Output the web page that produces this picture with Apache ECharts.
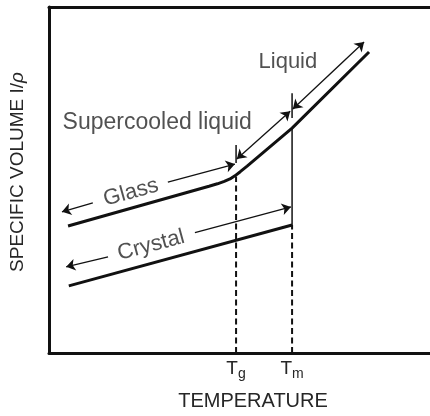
<!DOCTYPE html>
<html lang="en">
<head>
    <meta charset="UTF-8">
    <title>Specific volume vs temperature</title>
    <script src="https://cdn.jsdelivr.net/npm/echarts@6/dist/echarts.min.js"></script>
    <style>
        html, body { margin: 0; padding: 0; background: #fff; }
        #main { width: 430px; height: 416px; }
    </style>
</head>
<body>
    <div id="main"></div>
    <script>
        // characteristic temperatures (arbitrary units, axis 0-100)
        var TG = 49.1, TM = 63.8;
        var tempTicks = [TG, TM];
        var tickNames = ['g', 'm'];

        // glass -> supercooled liquid -> liquid curve
        var glassLiquid = [[5.0, 36.7], [42.0, 48.2], [44.2, 48.9], [46.0, 49.6], [47.5, 50.3],
            [48.8, 51.2], [50.2, 52.4], [52.0, 54.0], [63.8, 65.0], [84.0, 87.0]];
        // crystal branch
        var crystal = [[5.2, 19.4], [TM, 37.0]];
        // melting jump
        var meltJump = [[TM, 37.0], [TM, 65.0]];
        // dashed drop lines
        var tgDrop = [[TG, 0], [TG, 51.0]];
        var tmDrop = [[TM, 0], [TM, 37.0]];
        // short markers on arrows
        var tgMark = [[TG, 54.9], [TG, 60.1]];
        var tmMark = [[TM, 67.9], [TM, 75.1]];

        // arrows: [from, to], head at 'to'
        var singleArrows = [
            [[11.5, 43.4], [3.4, 40.8]],
            [[31.2, 49.4], [48.8, 54.6]],
            [[15.5, 27.8], [4.5, 24.9]],
            [[38.3, 34.8], [63.5, 42.2]]
        ];
        var doubleArrows = [
            [[49.3, 56.1], [63.3, 69.9]],
            [[64.0, 70.5], [82.7, 89.9]]
        ];

        // text labels: [x, y, text, rotate, size]
        var labels = [
            [21.5, 46.4, 'Glass', 15.5, 22],
            [26.8, 31.1, 'Crystal', 15, 22],
            [28.4, 66.5, 'Supercooled liquid', 0, 23],
            [62.7, 84.1, 'Liquid', 0, 22]
        ];

        var FONT = 'Liberation Sans, Arial, sans-serif';
        var INK = '#111';
        var TXT = '#262626';

        function lineSeries(data, width, type) {
            return {
                type: 'line',
                data: data,
                symbol: 'none',
                silent: true,
                lineStyle: { color: INK, width: width, type: type || 'solid' }
            };
        }

        var myChart = echarts.init(document.getElementById('main'));
        var option = {
            animation: false,
            grid: { left: 49, right: 0, top: 7, bottom: 63 },
            xAxis: [{
                type: 'value',
                min: 0,
                max: 100,
                name: 'TEMPERATURE',
                nameLocation: 'middle',
                nameGap: 38,
                nameTextStyle: { fontFamily: FONT, fontSize: 20, color: TXT, padding: [0, 0, 0, 27] },
                axisLine: { lineStyle: { color: INK, width: 3 } },
                axisTick: { show: false },
                splitLine: { show: false },
                axisLabel: {
                    customValues: tempTicks,
                    margin: 4,
                    formatter: function (v) {
                        var i = tempTicks.indexOf(v);
                        return '{t|T}{s|' + tickNames[i] + '}';
                    },
                    rich: {
                        t: { fontFamily: FONT, fontSize: 19, color: TXT },
                        s: { fontFamily: FONT, fontSize: 14, color: TXT, padding: [10, 0, 0, 0] }
                    }
                }
            }, {
                type: 'value',
                position: 'top',
                min: 0,
                max: 100,
                axisLine: { show: true, lineStyle: { color: INK, width: 3 } },
                axisTick: { show: false },
                axisLabel: { show: false },
                splitLine: { show: false }
            }],
            yAxis: {
                type: 'value',
                min: 0,
                max: 100,
                name: 'SPECIFIC VOLUME I/{i|ρ}',
                nameLocation: 'middle',
                nameRotate: 90,
                nameGap: 22,
                nameTextStyle: {
                    fontFamily: FONT, fontSize: 19, color: TXT, padding: [0, 0, 0, 16],
                    rich: { i: { fontFamily: FONT, fontSize: 19, fontStyle: 'italic', color: TXT } }
                },
                axisLine: { show: true, lineStyle: { color: INK, width: 3 } },
                axisTick: { show: false },
                axisLabel: { show: false },
                splitLine: { show: false }
            },
            series: [
                lineSeries(glassLiquid, 3),
                lineSeries(crystal, 3),
                lineSeries(meltJump, 1.5),
                lineSeries(tgDrop, 2, [6, 3.5]),
                lineSeries(tmDrop, 2, [6, 3.5]),
                lineSeries(tgMark, 1.5),
                lineSeries(tmMark, 1.5),
                {
                    type: 'lines',
                    coordinateSystem: 'cartesian2d',
                    silent: true,
                    symbol: ['none', 'arrow'],
                    symbolSize: 9,
                    lineStyle: { color: INK, width: 1.3, opacity: 1 },
                    data: singleArrows.map(function (a) { return { coords: a }; })
                },
                {
                    type: 'lines',
                    coordinateSystem: 'cartesian2d',
                    silent: true,
                    symbol: ['arrow', 'arrow'],
                    symbolSize: 9,
                    lineStyle: { color: INK, width: 1.3, opacity: 1 },
                    data: doubleArrows.map(function (a) { return { coords: a }; })
                },
                {
                    type: 'scatter',
                    silent: true,
                    symbolSize: 0,
                    data: labels.map(function (l) {
                        return {
                            value: [l[0], l[1]],
                            label: { rotate: l[3], fontSize: l[4] }
                        };
                    }),
                    label: {
                        show: true,
                        position: 'inside',
                        fontFamily: FONT,
                        fontSize: 22,
                        color: TXT,
                        formatter: function (p) { return labels[p.dataIndex][2]; }
                    }
                }
            ]
        };
        myChart.setOption(option);
    </script>
</body>
</html>
